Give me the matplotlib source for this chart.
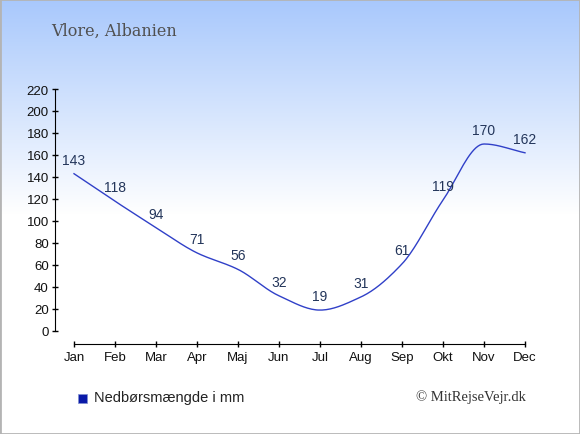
import numpy as np
import matplotlib.pyplot as plt
from matplotlib.patches import Rectangle

# data
months = ['Jan', 'Feb', 'Mar', 'Apr', 'Maj', 'Jun', 'Jul', 'Aug', 'Sep', 'Okt', 'Nov', 'Dec']
rain = [143, 118, 94, 71, 56, 32, 19, 31, 61, 119, 170, 162]
yticks = list(range(0, 221, 20))

line_col = '#3040c8'
lab_col = '#23355a'


def smooth(x, y, n=20):
    # monotone cubic hermite through the points
    x = np.asarray(x, float)
    y = np.asarray(y, float)
    d = np.diff(y) / np.diff(x)
    m = np.zeros_like(y)
    m[0], m[-1] = d[0], d[-1]
    for i in range(1, len(y) - 1):
        if d[i - 1] * d[i] > 0:
            m[i] = 2 / (1 / d[i - 1] + 1 / d[i])
    xs, ys = [], []
    for i in range(len(x) - 1):
        h = x[i + 1] - x[i]
        t = np.linspace(0, 1, n, endpoint=False)
        h00 = 2 * t**3 - 3 * t**2 + 1
        h10 = t**3 - 2 * t**2 + t
        h01 = -2 * t**3 + 3 * t**2
        h11 = t**3 - t**2
        xs.append(x[i] + t * h)
        ys.append(h00 * y[i] + h10 * h * m[i] + h01 * y[i + 1] + h11 * h * m[i + 1])
    xs.append([x[-1]])
    ys.append([y[-1]])
    return np.concatenate(xs), np.concatenate(ys)


fig = plt.figure(figsize=(5.8, 4.35), dpi=100)

# background gradient
bg = fig.add_axes([0, 0, 1, 1])
grad = np.ones((435, 1, 3))
top = np.array([0xa8, 0xc8, 0xfc]) / 255.0
for r in range(435):
    f = min(r / 215.0, 1.0)
    grad[r, 0] = top * (1 - f) + f * np.ones(3)
bg.imshow(grad, aspect='auto', extent=[0, 1, 0, 1])
bg.add_patch(Rectangle((0, 0), 1, 1, fill=False, edgecolor='#b4b4b4', lw=2, transform=bg.transAxes))
bg.set_axis_off()

ax = fig.add_axes([55 / 580, 103 / 435, 490 / 580, 242 / 435])
ax.patch.set_alpha(0)
x = np.arange(len(months))
sx, sy = smooth(x, rain)
ax.plot(sx, sy, color=line_col, lw=1)
for xi, v in zip(x, rain):
    ax.annotate(str(v), (xi, v), xytext=(0, 5), textcoords='offset points',
                ha='center', va='bottom', fontsize=10, color=lab_col,
                family='Liberation Sans')

ax.set_xlim(-19 / 41, 11 + 20 / 41)
ax.set_ylim(0, 220)
ax.set_yticks(yticks)
ax.set_xticks(x)
ax.set_xticklabels(months)
for s in ['top', 'right']:
    ax.spines[s].set_visible(False)
ax.spines['left'].set_bounds(0, 220)
ax.spines['bottom'].set_position(('outward', 9))
ax.spines['bottom'].set_bounds(0, 11)
ax.tick_params(axis='both', direction='inout', length=5, width=1, labelsize=9.5, colors='black')
ax.tick_params(axis='x', pad=3)
ax.tick_params(axis='y', pad=2)
for lab in ax.get_xticklabels() + ax.get_yticklabels():
    lab.set_family('Liberation Sans')
    lab.set_color('#111111')

fig.text(51 / 580, 1 - 31 / 435, 'Vlore, Albanien', fontsize=11.5, color='#505050',
         family='DejaVu Serif', va='center', ha='left')

# legend
fig.patches.append(Rectangle((78 / 580, 1 - 404 / 435), 9 / 580, 9 / 435,
                             transform=fig.transFigure, facecolor='#0a1aa8', edgecolor='#8090d0', lw=0.5))
fig.text(94 / 580, 1 - 398 / 435, 'Nedbørsmængde i mm', fontsize=10.5, color='#222222',
         family='Liberation Sans', va='center', ha='left')
fig.text(526 / 580, 1 - 397 / 435, '© MitRejseVejr.dk', fontsize=10.5, color='#333333',
         family='Liberation Serif', va='center', ha='right')

fig.savefig('out.png', dpi=100)
